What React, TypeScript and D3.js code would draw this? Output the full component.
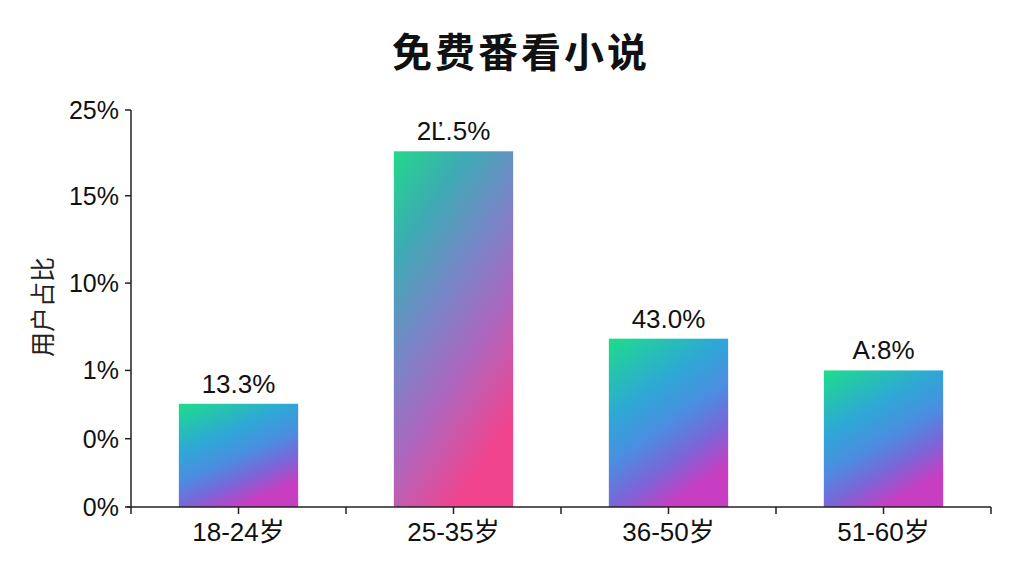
import React from "react";
import * as d3 from "d3";

const title = "免费番看小说";
const yAxisTitle = "用户占比";
const categories = ["18-24岁", "25-35岁", "36-50岁", "51-60岁"];
const values = [6.5, 22.4, 10.6, 8.6];
const valueLabels = ["13.3%", "2Ľ.5%", "43.0%", "A:8%"];
const tickValues = [0, 4.3, 8.6, 14.1, 19.6, 25];
const tickLabels = ["0%", "0%", "1%", "10%", "15%", "25%"];
const gradientIds = ["gA", "gB", "gA", "gA"];

const W = 1024;
const H = 576;
const left = 131;
const right = 991;
const top = 110;
const bottom = 507;

const FONT = "'Liberation Sans', Arial, 'Noto Sans CJK SC', sans-serif";

export default function App() {
  const x = d3.scaleBand<string>().domain(categories).range([left, right]).paddingInner(0.445).paddingOuter(0.2225);
  const y = d3.scaleLinear().domain([0, 25]).range([bottom, top]);
  const band = d3.scaleBand<string>().domain(categories).range([left, right]);
  const halfTicks: number[] = [];
  categories.forEach((c) => {
    halfTicks.push(band(c)!);
    halfTicks.push(band(c)! + band.bandwidth() / 2);
  });
  halfTicks.push(right);

  return (
    <svg width={W} height={H} style={{ position: "absolute", left: 0, top: 0, background: "#fff" }}>
      <defs>
        <linearGradient id="gA" x1="0" y1="0" x2="0.5" y2="1">
          <stop offset="0" stopColor="#1edc8a" />
          <stop offset="0.38" stopColor="#2ea8d6" />
          <stop offset="0.6" stopColor="#4a8ee0" />
          <stop offset="0.8" stopColor="#7a66d8" />
          <stop offset="1" stopColor="#c83ec2" />
        </linearGradient>
        <linearGradient id="gB" x1="0" y1="0" x2="0.5" y2="1">
          <stop offset="0" stopColor="#22d88c" />
          <stop offset="0.25" stopColor="#3eaab4" />
          <stop offset="0.5" stopColor="#7a84c8" />
          <stop offset="0.72" stopColor="#ae66be" />
          <stop offset="1" stopColor="#f0448e" />
        </linearGradient>
      </defs>
      <rect width={W} height={H} fill="#fff" />
      <text x={521} y={50} textAnchor="middle" dominantBaseline="central" fontFamily="'Noto Sans CJK SC', sans-serif" fontWeight={700} fontSize={40} letterSpacing={3} fill="#111">
        {title}
      </text>
      <text transform={`translate(41,307) rotate(-90)`} textAnchor="middle" dominantBaseline="central" fontFamily="'Noto Sans CJK SC', sans-serif" fontSize={25} fill="#222">
        {yAxisTitle}
      </text>
      {categories.map((c, i) => (
        <g key={c}>
          <rect x={x(c)} y={y(values[i])} width={x.bandwidth()} height={y(0) - y(values[i])} fill={`url(#${gradientIds[i]})`} />
          <text x={x(c)! + x.bandwidth() / 2} y={y(values[i]) - 11} textAnchor="middle" fontFamily={FONT} fontSize={26} fill="#111">
            {valueLabels[i]}
          </text>
          <text x={x(c)! + x.bandwidth() / 2} y={541} textAnchor="middle" fontFamily={FONT} fontSize={26} fill="#111">
            {c}
          </text>
        </g>
      ))}
      <line x1={left} x2={left} y1={top} y2={bottom} stroke="#222" strokeWidth={1.5} />
      <line x1={left - 4} x2={right} y1={bottom} y2={bottom} stroke="#222" strokeWidth={1.5} />
      {tickValues.map((t, i) => (
        <g key={i}>
          <line x1={left - 6} x2={left} y1={y(t)} y2={y(t)} stroke="#222" strokeWidth={1.5} />
          <text x={left - 12} y={y(t)} textAnchor="end" dominantBaseline="central" fontFamily={FONT} fontSize={25} fill="#111">
            {tickLabels[i]}
          </text>
        </g>
      ))}
      {halfTicks.map((t, i) => (
        <line key={i} x1={t} x2={t} y1={bottom} y2={bottom + 7} stroke="#222" strokeWidth={1.5} />
      ))}
    </svg>
  );
}
